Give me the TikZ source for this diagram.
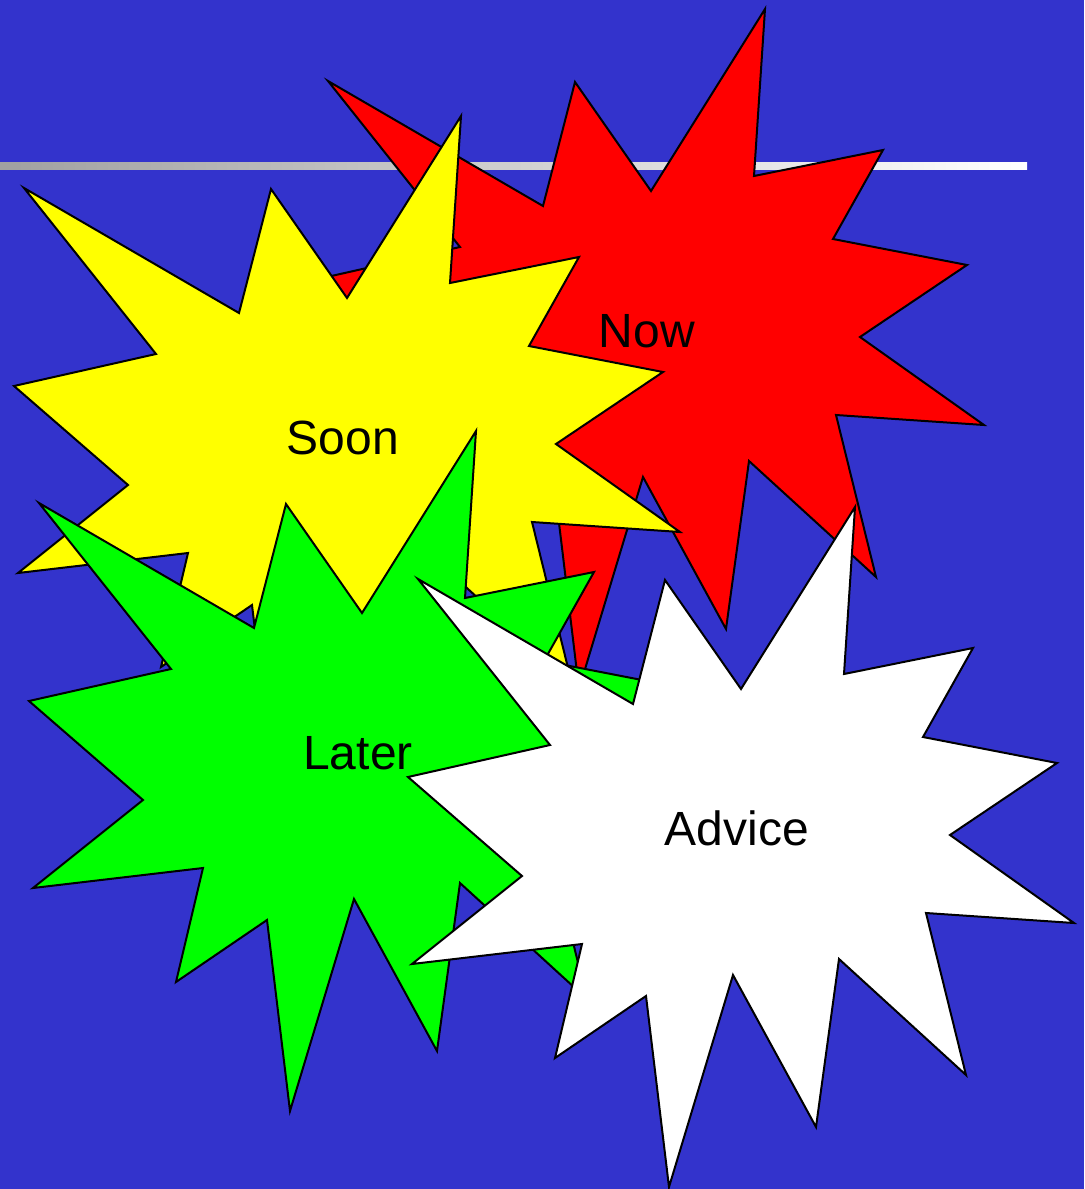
\documentclass[tikz,border=0pt]{standalone}
\usepackage{fontspec}
\setmainfont{Liberation Sans}
\usepackage{tikz}

\definecolor{slideblue}{RGB}{51,51,204}
\definecolor{burstred}{RGB}{255,0,0}
\definecolor{burstyellow}{RGB}{255,255,0}
\definecolor{burstgreen}{RGB}{0,255,0}
\definecolor{burstwhite}{RGB}{255,255,255}

\begin{document}
\begin{tikzpicture}[
  x=0.5pt, y=-0.5pt,
  burst/.pic={\draw[line width=1pt, fill=#1]
    (118,-321) -- (107,-154) -- (236,-180) -- (186,-91) -- (320,-65) -- (213,7)
    -- (337,95) -- (189,85) -- (229,247) -- (102,131) -- (79,299) -- (-4,147)
    -- (-68,359) -- (-91,168) -- (-182,230) -- (-155,116) -- (-325,136) -- (-215,48)
    -- (-329,-51) -- (-187,-83) -- (-319,-249) -- (-104,-124) -- (-72,-248) -- (4,-139)
    -- cycle;},
  lbl/.style={font=\fontsize{24}{28}\selectfont, text height=17.2pt, text depth=0pt,
              inner sep=0pt, anchor=center}
]
% sfondo
\useasboundingbox (0,0) rectangle (1084,1189);
\fill[slideblue] (0,0) rectangle (1084,1189);

% linea
\shade[left color=black!37, right color=white] (0,162) rectangle (1027,169);

% stelle
\pic at (647,330) {burst=burstred};
\node[lbl] (now) at (647,330) {Now};
\pic at (343,437) {burst=burstyellow};
\node[lbl] (soon) at (343,437) {Soon};
\pic at (358,752) {burst=burstgreen};
\node[lbl] (later) at (358,752) {Later};
\pic at (737,828) {burst=burstwhite};
\node[lbl] (advice) at (737,828) {Advice};
\end{tikzpicture}
\end{document}
